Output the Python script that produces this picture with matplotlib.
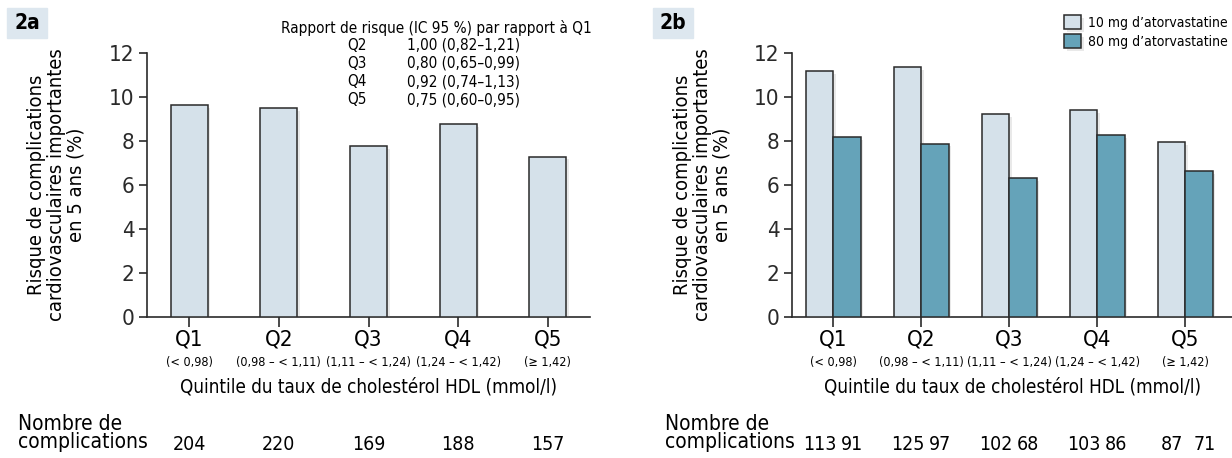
import os
import numpy as np
import matplotlib
matplotlib.use("Agg")
import matplotlib.pyplot as plt
import matplotlib.font_manager as fm
import matplotlib.transforms as mtrans
import matplotlib.patheffects as pe
from matplotlib.patches import Rectangle

# choisir une police étroite si disponible
prefs = ['liberationsansnarrow-regular', 'notosans-condensed.', 'notosans-condensed-regular',
         'dejavusanscondensed.', 'robotocondensed-regular', 'roboto_condensed-regular']
choix = None
for p in prefs:
    for f in fm.fontManager.ttflist:
        if os.path.basename(f.fname).lower().startswith(p):
            choix = f
            break
    if choix:
        break
if choix is None:
    for f in fm.fontManager.ttflist:
        fn = os.path.basename(f.fname).lower()
        if ('narrow' in fn or 'condensed' in fn) and 'bold' not in fn and 'italic' not in fn \
                and 'extra' not in fn and 'semi' not in fn and 'light' not in fn:
            choix = f
            break

if choix is not None:
    plt.rcParams['font.family'] = [choix.name, 'DejaVu Sans']
    plt.rcParams['font.stretch'] = choix.stretch
    k = 1.0
else:
    plt.rcParams['font.family'] = ['DejaVu Sans']
    k = 0.82

# données
quintiles = ['Q1', 'Q2', 'Q3', 'Q4', 'Q5']
intervalles = ['(< 0,98)', '(0,98 – < 1,11)', '(1,11 – < 1,24)', '(1,24 – < 1,42)', '(≥ 1,42)']
risque_global = [9.62, 9.48, 7.76, 8.77, 7.29]
risque_10mg = [11.18, 11.36, 9.23, 9.41, 7.95]
risque_80mg = [8.18, 7.88, 6.32, 8.27, 6.62]
nb_global = [204, 220, 169, 188, 157]
nb_10mg = [113, 125, 102, 103, 87]
nb_80mg = [91, 97, 68, 86, 71]
rr_quintiles = ['Q2', 'Q3', 'Q4', 'Q5']
rr_valeurs = ['1,00 (0,82–1,21)', '0,80 (0,65–0,99)', '0,92 (0,74–1,13)', '0,75 (0,60–0,95)']

clair = '#d5e1ea'
fonce = '#65a3b9'
bord = '#2a2a2a'
fond_label = '#dde7ef'
ombre = [pe.SimplePatchShadow(offset=(2, -2), shadow_rgbFace='#888888', alpha=0.18), pe.Normal()]

W, H = 1232, 458
fig = plt.figure(figsize=(W / 100, H / 100), dpi=100)

def px(x0, y0, x1, y1):
    # rectangle en pixels -> coordonnées figure
    return [x0 / W, 1 - y1 / H, (x1 - x0) / W, (y1 - y0) / H]

ax1 = fig.add_axes(px(147, 53, 590, 317))
ax2 = fig.add_axes(px(792, 53, 1232, 317))

x = np.arange(len(quintiles))

b1 = ax1.bar(x, risque_global, width=0.41, color=clair, edgecolor=bord, linewidth=1.1, zorder=3)
ax1.set_xlim(-0.47, 4.47)

w = 0.31
b2 = ax2.bar(x - w / 2, risque_10mg, width=w, color=clair, edgecolor=bord, linewidth=1.1, zorder=3,
             label='10 mg d’atorvastatine')
b3 = ax2.bar(x + w / 2, risque_80mg, width=w, color=fonce, edgecolor=bord, linewidth=1.1, zorder=3,
             label='80 mg d’atorvastatine')
ax2.set_xlim(-0.47, 4.53)
for bars in (b1, b2, b3):
    for r in bars:
        r.set_path_effects(ombre)

for ax in (ax1, ax2):
    ax.set_ylim(0, 12)
    ax.set_yticks(range(0, 13, 2))
    ax.set_xticks(x)
    ax.set_xticklabels([])
    for s in ('top', 'right'):
        ax.spines[s].set_visible(False)
    for s in ('left', 'bottom'):
        ax.spines[s].set_linewidth(1.2)
        ax.spines[s].set_color(bord)
    ax.tick_params(axis='y', labelsize=16 * k, length=6, width=1.2, pad=3, colors=bord)
    ax.tick_params(axis='x', length=7, width=1.2, colors=bord)
    ax.patch.set_visible(False)
    for i, (q, iv) in enumerate(zip(quintiles, intervalles)):
        ax.annotate(q, (i, 0), xycoords=('data', 'axes fraction'), xytext=(0, -9),
                    textcoords='offset points', ha='center', va='top', fontsize=16 * k)
        ax.annotate(iv, (i, 0), xycoords=('data', 'axes fraction'), xytext=(0, -28),
                    textcoords='offset points', ha='center', va='top', fontsize=9 * k)
    ax.text(0.5, -0.265, 'Quintile du taux de cholestérol HDL (mmol/l)', transform=ax.transAxes,
            ha='center', va='center', fontsize=13.5 * k)
    ax.text(-0.204, 0.5,
            'Risque de complications\ncardiovasculaires importantes\nen 5 ans (%)',
            transform=ax.transAxes, rotation=90, ha='center', va='center',
            fontsize=14.5 * k, linespacing=1.05)

# panneaux 2a / 2b
for txt, x0 in (('2a', 7), ('2b', 653)):
    fig.patches.append(Rectangle((x0 / W, 1 - 38 / H), 40 / W, 30 / H,
                                 transform=fig.transFigure, color=fond_label, zorder=0))
    fig.text((x0 + 20) / W, 1 - 23 / H, txt, ha='center', va='center',
             fontsize=15 * k, fontweight='bold')

# rapport de risque
fig.text(592 / W, 1 - 28 / H, 'Rapport de risque (IC 95 %) par rapport à Q1',
         ha='right', va='center', fontsize=11 * k)
for j, (q, v) in enumerate(zip(rr_quintiles, rr_valeurs)):
    yy = 1 - (45 + j * 18.3) / H
    fig.text(347 / W, yy, q, ha='left', va='center', fontsize=11 * k)
    fig.text(407 / W, yy, v, ha='left', va='center', fontsize=11 * k)

# légende
ax2.legend(loc='upper left', bbox_to_anchor=(1064 / W, 1 - 15 / H),
           bbox_transform=fig.transFigure, frameon=False, fontsize=10 * k,
           handlelength=1.22, handleheight=1.15, handletextpad=0.5,
           labelspacing=0.35, borderaxespad=0, borderpad=0)

# nombre de complications
for x0 in (18, 665):
    fig.text(x0 / W, 1 - 424 / H, 'Nombre de', ha='left', va='center', fontsize=15 * k)
    fig.text(x0 / W, 1 - 442 / H, 'complications', ha='left', va='center', fontsize=15 * k)

yb = 1 - 444 / H
tr1 = mtrans.blended_transform_factory(ax1.transData, fig.transFigure)
tr2 = mtrans.blended_transform_factory(ax2.transData, fig.transFigure)
for i, n in enumerate(nb_global):
    ax1.text(i, yb, str(n), transform=tr1, ha='center', va='center', fontsize=14 * k)
for i, (a, b) in enumerate(zip(nb_10mg, nb_80mg)):
    ax2.text(i - w / 2, yb, str(a), transform=tr2, ha='center', va='center', fontsize=14 * k)
    ax2.text(i + w / 2 + 0.06, yb, str(b), transform=tr2, ha='center', va='center', fontsize=14 * k)

fig.savefig('out.png', dpi=100)
